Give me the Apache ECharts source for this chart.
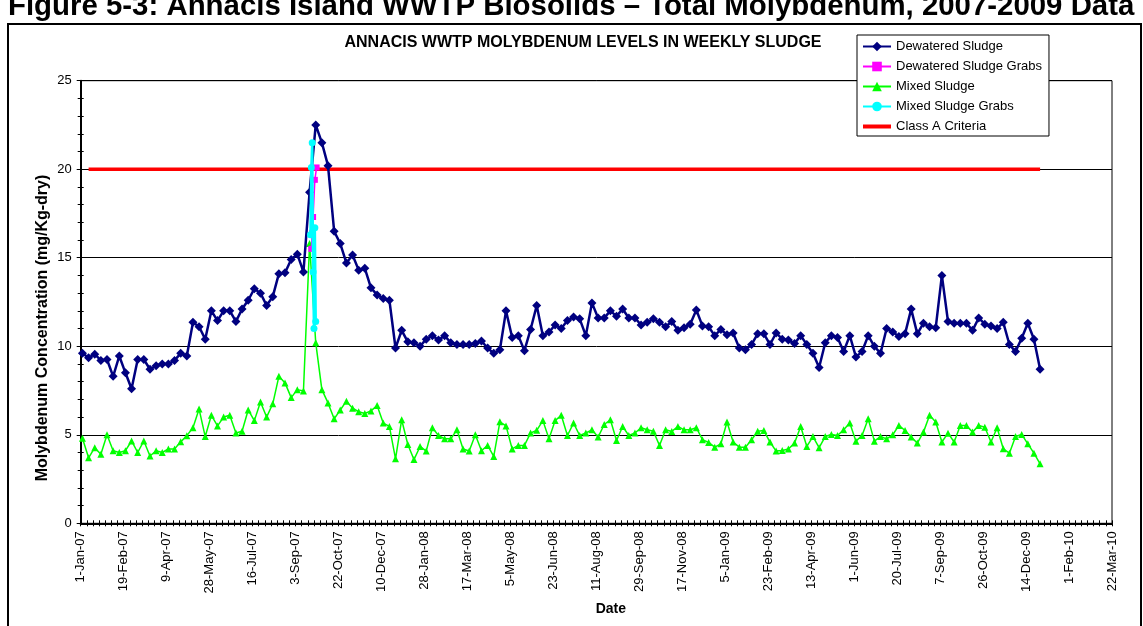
<!DOCTYPE html>
<html>
<head>
<meta charset="utf-8">
<script src="https://cdn.jsdelivr.net/npm/echarts@6/dist/echarts.min.js"></script>
<style>
  html, body { margin: 0; padding: 0; background: #fff; }
  #chart { width: 1143px; height: 626px; }
</style>
</head>
<body>
<div id="chart"></div>
<script>
const $ = (id) => document.getElementById(id);

// weekly samples, first one on 3-Jan-07
const weeklyStart = "2007-01-03";

const dewatered = [
  9.6, 9.35, 9.55, 9.2, 9.25, 8.3, 9.45, 8.5, 7.6, 9.25, 9.25, 8.7, 8.9, 9.0, 9.0, 9.2, 9.6, 9.45, 11.35, 11.1,
  10.4, 12.0, 11.45, 12.0, 12.0, 11.4, 12.1, 12.6, 13.25, 13.0, 12.3, 12.8, 14.1, 14.15, 14.9, 15.2, 14.2, 18.7, 22.5, 21.5,
  20.2, 16.5, 15.8, 14.7, 15.15, 14.3, 14.4, 13.3, 12.9, 12.7, 12.6, 9.9, 10.9, 10.25, 10.2, 10.0, 10.4, 10.6, 10.35, 10.6,
  10.2, 10.1, 10.1, 10.1, 10.15, 10.3, 9.9, 9.6, 9.8, 12.0, 10.5, 10.6, 9.75, 10.95, 12.3, 10.6, 10.8, 11.2, 11.0, 11.45,
  11.65, 11.55, 10.6, 12.45, 11.6, 11.6, 12.0, 11.7, 12.1, 11.6, 11.6, 11.2, 11.35, 11.55, 11.35, 11.1, 11.4, 10.9, 11.05, 11.25,
  12.05, 11.15, 11.1, 10.6, 10.95, 10.65, 10.75, 9.9, 9.8, 10.1, 10.7, 10.7, 10.1, 10.75, 10.4, 10.35, 10.15, 10.6, 10.1, 9.6,
  8.8, 10.2, 10.6, 10.5, 9.7, 10.6, 9.4, 9.7, 10.6, 10.0, 9.6, 11.0, 10.8, 10.55, 10.7, 12.1, 10.7, 11.3, 11.1, 11.05,
  14.0, 11.4, 11.3, 11.3, 11.3, 10.9, 11.6, 11.25, 11.15, 11.0, 11.35, 10.1, 9.7, 10.45, 11.3, 10.4, 8.7
];

const mixed = [
  4.8, 3.7, 4.27, 3.9, 5.0, 4.1, 4.0, 4.1, 4.65, 4.0, 4.65, 3.8, 4.1, 4.0, 4.2, 4.2, 4.6, 4.95, 5.4, 6.45,
  4.9, 6.1, 5.5, 6.0, 6.1, 5.1, 5.2, 6.4, 5.8, 6.85, 6.0, 6.75, 8.3, 7.93, 7.1, 7.55, 7.47, 15.8, 10.2, 7.55,
  6.8, 5.9, 6.4, 6.9, 6.5, 6.3, 6.2, 6.35, 6.65, 5.66, 5.47, 3.64, 5.85, 4.45, 3.6, 4.34, 4.08, 5.4, 4.96, 4.77,
  4.77, 5.28, 4.2, 4.08, 5.0, 4.1, 4.4, 3.78, 5.73, 5.5, 4.2, 4.4, 4.4, 5.1, 5.25, 5.8, 4.77, 5.8, 6.1, 4.96,
  5.66, 4.96, 5.1, 5.28, 4.87, 5.58, 5.85, 4.68, 5.47, 4.96, 5.1, 5.4, 5.28, 5.2, 4.4, 5.28, 5.19, 5.47, 5.28, 5.28,
  5.4, 4.72, 4.57, 4.3, 4.49, 5.72, 4.59, 4.3, 4.3, 4.72, 5.2, 5.24, 4.59, 4.08, 4.11, 4.2, 4.53, 5.47, 4.34, 4.9,
  4.27, 4.9, 5.02, 4.96, 5.28, 5.66, 4.64, 4.96, 5.9, 4.64, 4.9, 4.77, 5.0, 5.53, 5.24, 4.87, 4.53, 5.15, 6.1, 5.72,
  4.59, 5.09, 4.59, 5.53, 5.53, 5.15, 5.53, 5.43, 4.59, 5.4, 4.21, 3.96, 4.9, 5.02, 4.49, 3.96, 3.36
];

const dewateredGrabDates = ["2007-09-21", "2007-09-22", "2007-09-23", "2007-09-25", "2007-09-27"];
const dewateredGrabs = [15.5, 16.4, 17.3, 19.4, 20.1];

const mixedGrabDates = ["2007-09-20", "2007-09-21", "2007-09-22", "2007-09-23", "2007-09-24", "2007-09-25", "2007-09-26"];
const mixedGrabs = [16.3, 20.1, 21.5, 14.2, 11.0, 16.7, 11.4];

const criteriaDates = ["2007-01-10", "2009-12-30"];
const criteria = [20, 20];

const axisStart = "2007-01-01";
const months = ["Jan", "Feb", "Mar", "Apr", "May", "Jun", "Jul", "Aug", "Sep", "Oct", "Nov", "Dec"];

const DAY = 86400000;
const toUtc = (s) => {
  const [y, m, d] = s.split("-").map(Number);
  return Date.UTC(y, m - 1, d);
};
const dayNum = (s) => Math.round((toUtc(s) - toUtc(axisStart)) / DAY);
const dayLabel = (n) => {
  const d = new Date(toUtc(axisStart) + n * DAY);
  return d.getUTCDate() + "-" + months[d.getUTCMonth()] + "-" + String(d.getUTCFullYear()).slice(2);
};

const weekly = (values) => values.map((v, i) => [dayNum(weeklyStart) + i * 7, v]);
const dated = (dates, values) => dates.map((d, i) => [dayNum(d), values[i]]);

const font = "Liberation Sans, Arial, sans-serif";
const black = "#000";

const chart = echarts.init($("chart"), null, { renderer: "canvas" });

chart.setOption({
  animation: false,
  textStyle: { fontFamily: font, color: black },
  title: {
    text: "ANNACIS WWTP MOLYBDENUM LEVELS IN WEEKLY SLUDGE",
    left: 583,
    top: 35,
    padding: 0,
    textAlign: "center",
    textStyle: { fontFamily: font, fontSize: 16, fontWeight: "bold", color: black }
  },
  legend: {
    orient: "vertical",
    left: 857,
    top: 35,
    padding: [5, 7, 3, 4],
    itemGap: 7,
    itemWidth: 28,
    itemHeight: 12,
    backgroundColor: "#fff",
    borderColor: black,
    borderWidth: 1,
    textStyle: { fontFamily: font, fontSize: 13, color: black },
    data: [
      "Dewatered Sludge",
      "Dewatered Sludge Grabs",
      "Mixed Sludge",
      "Mixed Sludge Grabs",
      {
        name: "Class A Criteria",
        itemStyle: { opacity: 0 },
        lineStyle: { color: "#ff0000", width: 4 }
      }
    ]
  },
  graphic: [
    {
      type: "text",
      x: 8,
      y: 7,
      style: {
        text: "Figure 5-3: Annacis Island WWTP Biosolids \u2013 Total Molybdenum, 2007-2009 Data",
        font: "bold 29.4px " + font,
        fill: black,
        textVerticalAlign: "middle"
      }
    },
    {
      type: "rect",
      shape: { x: 8, y: 24, width: 1133, height: 640 },
      style: { fill: "none", stroke: black, lineWidth: 2 },
      silent: true
    },
    {
      type: "text",
      x: 43,
      y: 328,
      rotation: Math.PI / 2,
      style: {
        text: "Molybdenum Concentration (mg/Kg-dry)",
        font: "bold 16px " + font,
        fill: black,
        textAlign: "center",
        textVerticalAlign: "middle"
      }
    }
  ],
  grid: {
    left: 80.7,
    right: 31,
    top: 80.7,
    bottom: 102.7,
    show: true,
    borderColor: black,
    borderWidth: 1,
    backgroundColor: "#fff"
  },
  xAxis: [
    {
      type: "value",
      min: 0,
      max: 1176,
      interval: 49,
      name: "Date",
      nameLocation: "middle",
      nameGap: 79,
      nameTextStyle: { fontFamily: font, fontSize: 14, fontWeight: "bold", color: black, padding: [0, 0, 0, 29] },
      axisLine: { lineStyle: { color: black, width: 2 } },
      axisTick: { length: 3, lineStyle: { color: black } },
      minorTick: { show: true, splitNumber: 7, length: 3, lineStyle: { color: black } },
      splitLine: { show: false },
      axisLabel: {
        rotate: 90,
        margin: 8,
        fontSize: 13,
        color: black,
        fontFamily: font,
        formatter: (v) => dayLabel(v)
      }
    },
    {
      type: "value",
      min: 0,
      max: 1176,
      interval: 49,
      position: "bottom",
      axisLine: { show: false },
      axisLabel: { show: false },
      axisTick: { show: true, inside: true, length: 3, lineStyle: { color: black } },
      minorTick: { show: true, splitNumber: 7, length: 3, lineStyle: { color: black } },
      splitLine: { show: false }
    }
  ],
  yAxis: [
    {
      type: "value",
      min: 0,
      max: 25,
      interval: 5,
      axisLine: { show: true, lineStyle: { color: black, width: 2 } },
      axisTick: { show: true, length: 4, lineStyle: { color: black } },
      minorTick: { show: true, splitNumber: 5, length: 3, lineStyle: { color: black } },
      splitLine: { show: true, lineStyle: { color: black, width: 1 } },
      axisLabel: { margin: 9, fontSize: 13, color: black, fontFamily: font }
    },
    {
      type: "value",
      min: 0,
      max: 25,
      interval: 5,
      position: "left",
      axisLine: { show: false },
      axisLabel: { show: false },
      axisTick: { show: false, inside: true },
      minorTick: { show: true, splitNumber: 5, length: 3, lineStyle: { color: black } },
      splitLine: { show: false }
    }
  ],
  series: [
    {
      name: "Class A Criteria",
      type: "line",
      data: dated(criteriaDates, criteria),
      symbol: "none",
      lineStyle: { color: "#ff0000", width: 3.5 },
      itemStyle: { color: "#ff0000" },
      z: 1
    },
    {
      name: "Mixed Sludge",
      type: "line",
      data: weekly(mixed),
      symbol: "triangle",
      symbolSize: 7,
      lineStyle: { color: "#00ff00", width: 1.5 },
      itemStyle: { color: "#00ff00" },
      z: 2
    },
    {
      name: "Dewatered Sludge",
      type: "line",
      data: weekly(dewatered),
      symbol: "diamond",
      symbolSize: 9,
      lineStyle: { color: "#000080", width: 2.5 },
      itemStyle: { color: "#000080" },
      z: 3
    },
    {
      name: "Dewatered Sludge Grabs",
      type: "line",
      data: dated(dewateredGrabDates, dewateredGrabs),
      symbol: "rect",
      symbolSize: 6,
      lineStyle: { color: "#ff00ff", width: 1.5 },
      itemStyle: { color: "#ff00ff" },
      z: 4
    },
    {
      name: "Mixed Sludge Grabs",
      type: "line",
      data: dated(mixedGrabDates, mixedGrabs),
      symbol: "circle",
      symbolSize: 7,
      lineStyle: { color: "#00ffff", width: 2.5 },
      itemStyle: { color: "#00ffff" },
      z: 5
    }
  ]
});
</script>
</body>
</html>
